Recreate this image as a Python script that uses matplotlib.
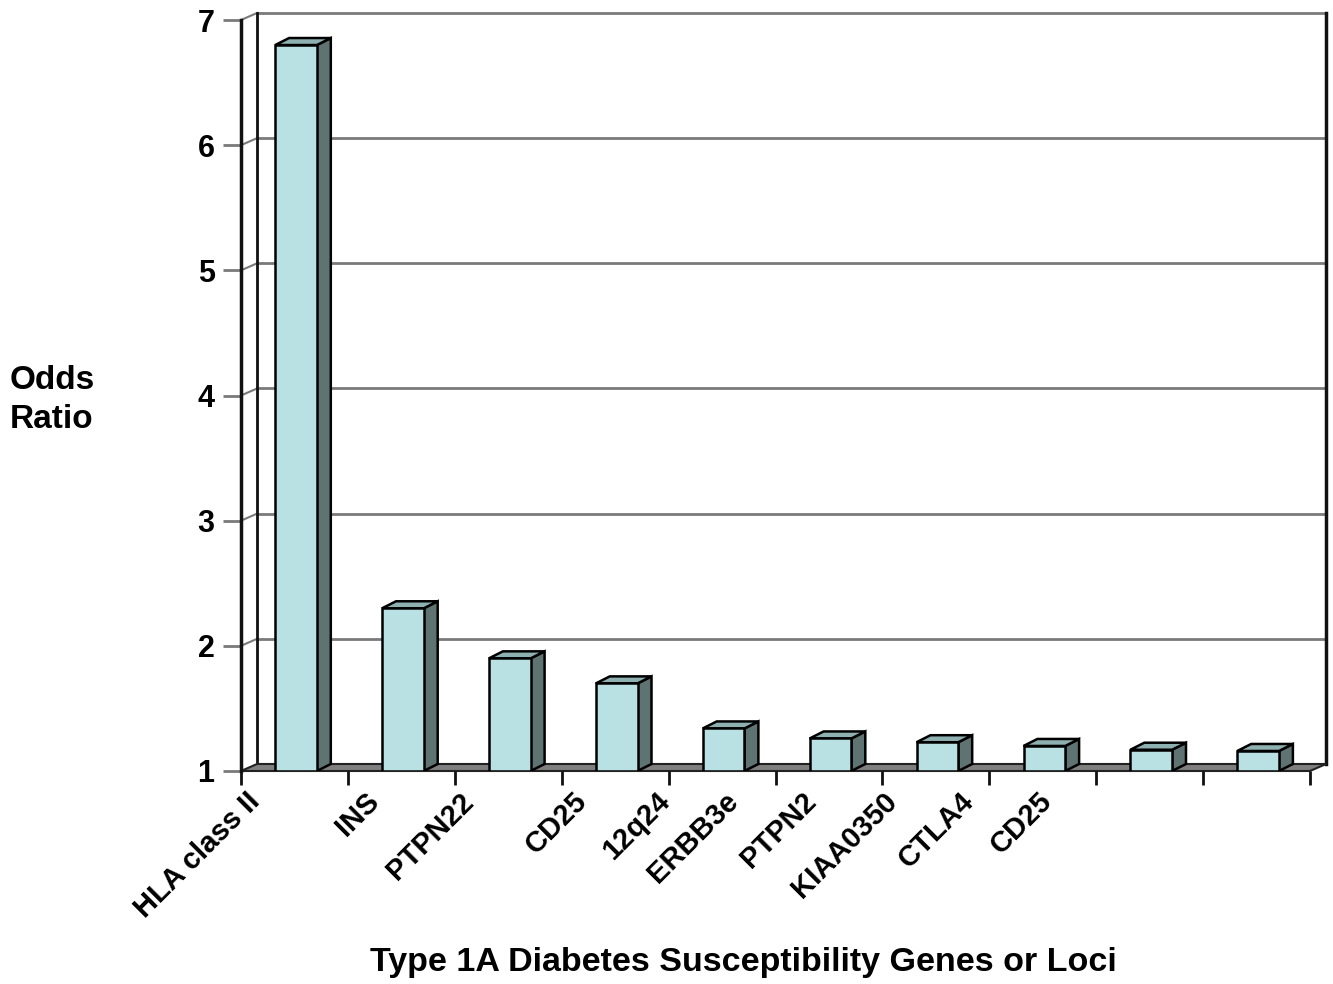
import matplotlib
matplotlib.use("Agg")
import matplotlib.pyplot as plt
from matplotlib.patches import Polygon, Rectangle

plt.rcParams['font.family'] = ['Liberation Sans', 'DejaVu Sans']
plt.rcParams['font.weight'] = 'bold'

# ---- data ----
genes = ["HLA class II", "INS", "PTPN22", "CD25", "12q24", "ERBB3e",
         "PTPN2", "KIAA0350", "CTLA4", "CD25"]
odds_ratio = [6.8, 2.3, 1.9, 1.7, 1.34, 1.26, 1.23, 1.2, 1.17, 1.16]
y_ticks = [1, 2, 3, 4, 5, 6, 7]

# ---- layout / style ----
FRONT = "#b9e1e4"
SIDE = "#5f7372"
TOP = "#8fb0b0"
GRID = "#7a7a7a"
FLOOR = "#7f7f7f"
DX, DY = 0.15, 0.056        # wall depth (x in categories, y in value units)
BDX, BDY = 0.13, 0.056      # bar depth
BAR_START, BAR_W = 0.32, 0.39
# rotated label anchor (upper-right end) positions in category units
label_end_x = [0.04, 1.16, 2.04, 3.10, 3.88, 4.52, 5.25, 6.0, 6.72, 7.45]
label_y = 0.87

fig = plt.figure(figsize=(13.33, 9.84), dpi=100)
ax = fig.add_axes([241/1333, 213/984, 1069/1333, 751/984])
n = len(genes)
ax.set_xlim(0, n)
ax.set_ylim(y_ticks[0], y_ticks[-1])
for s in ax.spines.values():
    s.set_visible(False)
ax.patch.set_visible(False)

ymin, ymax = y_ticks[0], y_ticks[-1]

# floor
ax.add_patch(Polygon([(0, ymin), (n, ymin), (n + DX, ymin + DY), (DX, ymin + DY)],
                     closed=True, facecolor=FLOOR, edgecolor="#222222", lw=1.5,
                     clip_on=False, zorder=1))
# back wall gridlines + left wall diagonals
for v in y_ticks[1:]:
    ax.plot([DX, n + DX], [v + DY, v + DY], color=GRID, lw=2, clip_on=False, zorder=0.5)
    ax.plot([0, DX], [v, v + DY], color=GRID, lw=1.5, clip_on=False, zorder=0.5)
# back-left vertical edge
ax.plot([DX, DX], [ymin + DY, ymax + DY], color="#111111", lw=2, clip_on=False, zorder=0.6)
# right edge
ax.plot([n + DX, n + DX], [ymin + DY, ymax + DY], color="#111111", lw=2.5, clip_on=False, zorder=0.6)
# front axis
ax.plot([0, 0], [ymin, ymax], color="#111111", lw=2.5, clip_on=False, zorder=3)

# bars
for i, v in enumerate(odds_ratio):
    x0 = i + BAR_START
    x1 = x0 + BAR_W
    ax.add_patch(Polygon([(x1, ymin), (x1 + BDX, ymin + BDY), (x1 + BDX, v + BDY), (x1, v)],
                         closed=True, facecolor=SIDE, edgecolor="black", lw=1.8, zorder=2))
    ax.add_patch(Polygon([(x0, v), (x1, v), (x1 + BDX, v + BDY), (x0 + BDX, v + BDY)],
                         closed=True, facecolor=TOP, edgecolor="black", lw=1.8, zorder=2,
                         clip_on=False))
    ax.add_patch(Rectangle((x0, ymin), BAR_W, v - ymin, facecolor=FRONT,
                           edgecolor="black", lw=1.8, zorder=2.5))

# ticks
ax.set_yticks(y_ticks)
ax.set_yticklabels([str(t) for t in y_ticks], fontsize=22, fontweight='bold')
ax.tick_params(axis='y', length=13, width=2, color=GRID, pad=6)
ax.set_xticks(range(n + 1))
ax.set_xticklabels([])
ax.tick_params(axis='x', length=10, width=2, color="#111111", direction='out')

for lx, g in zip(label_end_x, genes):
    ax.text(lx, label_y, g, rotation=45, rotation_mode='anchor', ha='right', va='top',
            fontsize=21, fontweight='bold', clip_on=False)

fig.text(10/1333, 1 - 400/984, "Odds\nRatio", ha='left', va='center', fontsize=24,
         fontweight='bold', linespacing=1.3)
fig.text(743/1333, 1 - 962/984, "Type 1A Diabetes Susceptibility Genes or Loci",
         ha='center', va='center', fontsize=24.5, fontweight='bold')

fig.savefig("out.png", dpi=100)
